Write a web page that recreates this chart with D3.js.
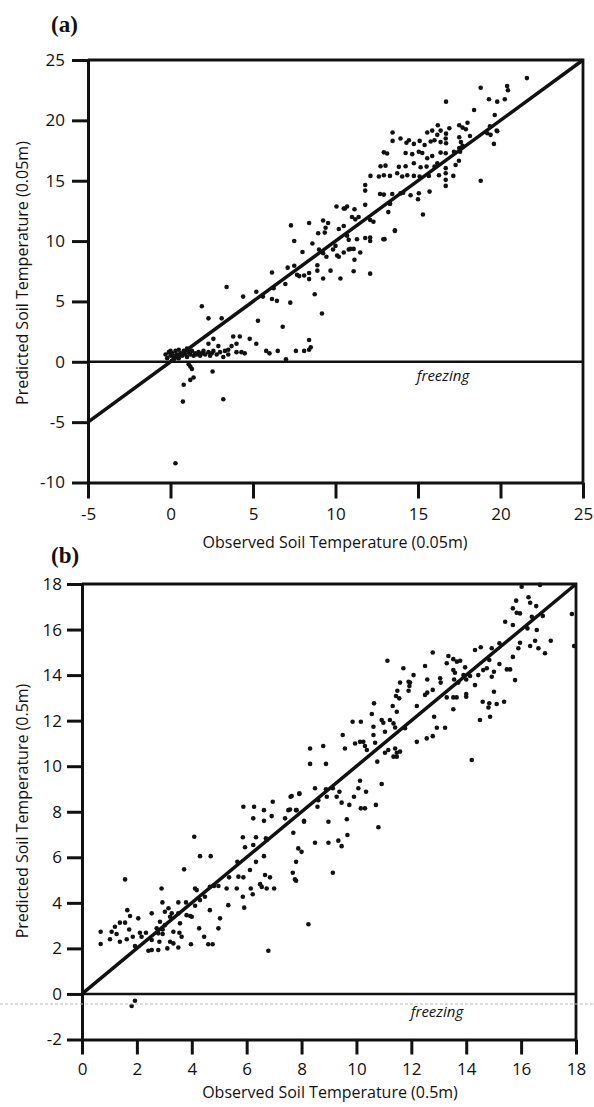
<!DOCTYPE html>
<html>
<head>
<meta charset="utf-8">
<script src="https://cdn.jsdelivr.net/npm/d3@7"></script>
<style>
body { margin: 0; background: #fff; }
svg text { font-family: "Open Sans", sans-serif; fill: #111; }
</style>
</head>
<body>
<div id="chart"></div>
<script>
// tick values for both panels
let xTicksA = [-5, 0, 5, 10, 15, 20, 25];
let yTicksA = [-10, -5, 0, 5, 10, 15, 20, 25];
let xTicksB = [0, 2, 4, 6, 8, 10, 12, 14, 16, 18];
let yTicksB = [-2, 0, 2, 4, 6, 8, 10, 12, 14, 16, 18];

// panel (a): [observed, predicted] soil temperature at 0.05m
let pointsA = [
    [3.4,6.2],[4.4,5.4],[1.9,4.6],[2.3,3.6],[3.1,3.6],[5.3,3.4],[6.8,2.9],[3.8,2.1],[4.2,2.1],[4.8,1.9],
    [5.2,1.5],[2.6,1.9],[2.3,1.5],[2.9,1.3],[3.7,1.3],[3.5,1.0],[4.0,1.5],[4.0,0.8],[4.3,0.8],[4.5,0.7],
    [5.8,0.9],[6.0,0.7],[6.5,0.9],[7.6,0.9],[8.1,0.9],[8.4,1.0],[8.5,1.2],[8.4,1.8],[7.0,0.2],
    [1.2,-0.4],[1.3,-0.6],[1.4,-1.3],[0.8,-1.9],[0.75,-3.3],[3.2,-3.1],[2.55,-0.8],[0.3,-8.4],[1.1,-0.2],[1.2,-1.5],
    [-0.3,0.6],[-0.1,0.8],[0.0,0.5],[0.1,0.7],[0.2,0.4],[0.3,0.9],[0.4,0.6],[0.5,0.3],[0.6,0.7],[0.7,0.5],
    [0.8,0.9],[0.9,0.6],[1.0,0.4],[1.1,0.8],[1.2,0.6],[1.3,0.9],[1.4,0.5],[1.5,0.7],[1.6,0.6],[1.7,0.8],
    [1.8,0.5],[1.9,0.7],[2.0,0.9],[2.1,0.6],[2.3,0.8],[2.4,0.5],[2.5,0.7],[2.6,0.9],[2.8,0.6],[3.0,0.8],
    [3.2,0.4],[3.3,0.9],[3.5,0.6],[0.2,0.2],[0.1,0.1],[-0.2,0.3],[0.0,0.9],[0.5,1.0],[1.0,1.1],[0.3,0.5],
    [6.15,7.4],[6.25,6.1],[6.45,5.05],[7.26,4.9],[6.96,6.45],[7.67,7.2],[5.2,5.8],[5.6,5.4],[6.15,5.2],[8.74,5.6],
    [9.18,4.0],[7.1,7.8],[7.5,7.95],[7.8,7.1],[8.1,7.15],[8.4,7.35],[8.4,6.85],[8.9,8.0],[8.9,7.55],[9.25,6.9],
    [9.7,7.55],[10.3,6.9],[11.1,7.5],[12.1,7.3],[7.3,11.3],[8.4,11.5],[9.25,11.7],[9.55,11.5],[8.95,10.65],[9.35,10.7],
    [9.4,11.1],[10.5,11.25],[7.5,10.0],[8.6,9.8],[8.0,9.1],[9.0,9.3],[9.25,9.0],[9.45,8.7],[9.85,9.3],[10.1,8.8],
    [10.2,8.7],[10.5,9.05],[10.8,9.3],[10.06,12.86],[10.57,12.7],[10.7,12.86],[11.15,12.64],[11.8,13.0],[11.0,12.0],[11.2,11.8],
    [11.4,12.0],[10.2,11.0],[12.1,11.75],[10.7,10.45],[10.8,10.1],[11.3,10.15],[11.8,10.25],[10.0,9.6],[10.9,9.35],[11.1,9.35],
    [11.5,9.05],[11.15,8.45],[12.1,10.0],[12.9,10.15],[13.6,10.9],[15.3,12.2],[12.3,11.6],[12.1,10.3],[13.3,13.1],[13.2,12.4],
    [21.6,23.5],[18.8,22.7],[20.4,22.85],[20.45,22.5],[19.3,21.75],[19.8,21.55],[20.26,21.75],[16.7,21.55],[18.4,20.86],[19.65,20.45],
    [18.0,19.8],[17.7,19.4],[17.5,19.6],[17.9,19.26],[16.2,19.6],[16.37,19.15],[16.9,19.35],[16.7,18.9],[15.56,19.0],[15.86,19.15],
    [16.17,18.8],[17.5,18.6],[17.6,18.2],[17.7,17.9],[17.5,17.7],[18.15,18.7],[19.2,18.93],[19.77,19.15],[19.6,18.05],[19.8,19.1],
    [19.4,18.8],[19.36,19.5],[18.8,15.0],[13.46,19.0],[13.46,18.3],[13.94,18.5],[14.3,18.15],[14.45,18.35],[14.75,18.05],[15.1,18.3],
    [15.4,17.96],[15.77,18.25],[16.0,18.35],[16.37,18.2],[16.68,18.5],[16.7,18.1],[12.93,17.35],[13.13,17.25],[14.25,17.3],[14.65,17.2],
    [15.05,17.4],[15.26,17.3],[15.56,16.86],[15.86,17.05],[16.37,17.33],[16.68,17.28],[17.18,17.4],[17.55,17.4],[12.73,16.2],[13.03,16.25],
    [13.84,16.15],[14.25,16.2],[14.75,16.45],[15.16,16.12],[15.52,16.17],[16.0,16.17],[16.17,16.45],[16.68,16.04],[17.28,16.3],[17.48,16.66],
    [12.12,15.4],[12.63,15.35],[12.93,15.45],[13.3,15.4],[13.74,15.62],[14.04,15.35],[14.35,15.45],[14.75,15.4],[15.1,15.35],[15.66,15.4],
    [16.27,15.45],[16.68,15.62],[16.68,15.07],[16.68,14.57],[17.14,15.4],[11.8,14.65],[11.8,14.18],[12.7,13.9],[12.93,13.85],[13.44,13.9],
    [13.94,13.95],[14.1,14.0],[14.55,13.8],[15.05,13.96],[15.0,13.46],[15.7,14.1],[13.3,13.1],[13.6,10.84],[12.97,10.16],[10.5,12.7]
];

// panel (b): [observed, predicted] soil temperature at 0.5m
let pointsB = [
    [16.02,17.88],[16.69,17.96],[15.82,17.27],[16.27,17.42],[16.33,17.18],[16.55,17.03],[15.7,16.93],[15.84,16.74],[15.96,16.71],[17.85,16.68],
    [17.93,15.28],[15.42,16.34],[15.7,16.2],[16.39,16.56],[16.79,16.6],[16.23,16.05],[16.57,15.98],[17.08,15.51],[16.51,15.51],[16.33,15.28],
    [16.63,15.18],[16.87,14.96],[15.96,15.42],[15.9,15.18],[15.7,14.8],[14.32,15.1],[14.53,15.22],[14.93,15.18],[15.21,15.4],[12.78,14.99],
    [13.35,14.84],[13.29,14.52],[13.53,14.7],[13.66,14.59],[13.78,14.63],[11.13,14.63],[11.71,14.3],[12.5,14.4],[12.08,14.0],[11.9,13.71],
    [11.95,13.67],[12.58,13.81],[13.05,13.86],[13.07,13.67],[13.53,14.22],[13.59,14.1],[13.96,14.34],[13.9,14.0],[13.56,13.81],[13.71,13.67],
    [14.0,13.81],[14.14,13.96],[14.32,13.56],[14.44,14.0],[14.62,14.22],[14.75,14.3],[14.84,14.66],[14.93,13.93],[15.01,14.15],[15.21,14.49],
    [15.48,14.25],[15.6,14.25],[15.78,13.78],[11.44,13.08],[11.49,13.31],[11.56,12.98],[11.9,13.31],[11.93,13.52],[11.59,13.67],[12.5,13.13],
    [12.58,13.23],[12.78,13.35],[13.29,13.02],[13.53,13.02],[13.65,13.02],[14.0,13.05],[14.0,13.17],[13.53,12.5],[14.6,12.83],[14.81,12.58],
    [14.84,12.76],[15.01,13.27],[15.11,12.73],[15.38,12.83],[14.5,12.03],[14.87,12.17],[14.2,10.27],[10.64,12.76],[11.32,12.64],[11.47,12.39],
    [12.2,12.64],[12.83,12.17],[10.56,12.29],[9.86,11.95],[10.16,11.95],[10.92,12.03],[10.98,11.91],[10.62,11.73],[11.04,11.51],[11.35,11.88],
    [11.41,11.7],[11.22,12.03],[11.77,11.67],[12.93,11.69],[13.23,11.69],[9.5,11.37],[10.62,11.37],[10.68,11.03],[12.2,11.07],[12.56,11.22],
    [12.78,11.32],[9.95,11.0],[10.13,11.07],[10.25,11.07],[10.31,10.89],[10.38,10.71],[9.58,10.78],[8.31,10.78],[8.79,10.89],[8.31,10.1],
    [8.89,10.1],[10.76,10.2],[11.04,10.59],[11.16,10.71],[11.47,10.59],[11.41,10.78],[11.59,10.64],[11.35,10.42],[11.47,10.42],[10.92,9.22],
    [10.13,9.36],[10.35,8.88],[10.07,9.03],[9.91,8.66],[9.74,8.3],[9.46,8.4],[9.28,8.66],[9.38,8.88],[9.14,9.03],[8.49,9.03],
    [8.89,8.99],[8.61,8.51],[8.92,8.66],[7.92,8.78],[7.64,8.69],[10.71,8.3],[10.16,8.15],[10.31,8.15],[7.82,8.07],[7.58,8.1],
    [8.09,7.56],[8.98,7.56],[9.65,7.67],[10.8,7.32],[7.7,7.08],[7.88,6.39],[8.0,6.24],[7.8,5.8],[7.68,5.32],[7.76,5.03],
    [8.49,6.64],[8.98,6.64],[9.34,6.73],[9.46,6.49],[9.67,6.98],[9.14,5.32],[8.25,3.06],[7.8,4.97],[8.58,8.22],[6.79,1.9],
    [7.6,8.66],[7.92,8.81],[8.09,7.6],[7.8,8.07],[7.52,8.07],[7.4,7.71],[6.95,8.44],[6.63,8.07],[6.63,7.6],[6.91,7.81],
    [6.27,8.22],[6.24,7.71],[5.88,8.22],[5.86,6.88],[6.34,6.88],[6.7,6.83],[5.94,6.44],[6.24,6.54],[6.73,6.76],[6.63,6.05],
    [6.34,5.8],[6.12,5.44],[5.88,5.12],[5.7,5.15],[5.66,5.8],[5.36,5.12],[5.27,4.63],[5.64,4.63],[5.86,4.27],[6.15,4.63],
    [6.22,4.38],[6.49,4.82],[6.55,4.7],[6.73,4.63],[7.0,4.63],[6.67,5.22],[6.85,5.12],[4.09,6.9],[4.3,6.05],[4.69,6.05],
    [3.72,5.47],[4.12,4.63],[4.18,4.56],[4.66,4.71],[4.81,4.74],[4.97,4.74],[2.9,4.63],[2.93,4.02],[3.51,4.02],[3.79,4.02],
    [3.15,3.76],[3.94,3.42],[3.27,3.54],[4.12,3.87],[4.3,4.12],[4.48,4.27],[4.66,3.68],[5.03,3.32],[5.33,3.9],[5.91,3.79],
    [4.97,2.88],[4.45,2.51],[4.27,2.88],[4.6,2.18],[4.76,2.18],[3.97,2.18],[1.57,5.03],[1.65,3.68],[1.75,3.42],[2.05,3.32],
    [2.54,3.54],[2.84,3.17],[3.02,3.61],[3.21,3.39],[3.51,3.54],[3.81,3.46],[4.0,3.39],[3.57,3.1],[3.33,2.73],[3.55,2.69],
    [3.02,3.02],[2.94,2.83],[0.68,2.73],[0.68,2.19],[1.02,2.4],[1.08,2.73],[1.2,2.95],[1.38,3.13],[1.57,3.13],[1.72,2.83],
    [1.26,2.63],[1.38,2.29],[1.63,2.4],[1.85,2.51],[1.93,2.1],[2.11,2.69],[2.33,2.69],[2.17,2.51],[2.42,1.9],[2.54,2.37],
    [2.72,2.88],[2.78,2.66],[2.82,2.29],[2.94,2.63],[2.78,1.93],[3.11,2.0],[3.21,2.29],[3.33,2.22],[3.51,2.04],[3.63,2.51],
    [2.54,1.93],[1.81,-0.53],[1.93,-0.3]
];

let svg = d3.select("#chart").append("svg")
    .attr("width", 594)
    .attr("height", 1107);

// plain hyphen for negatives, like the printed figure
let fmt = function(d) { return String(d); };

// draws one scatter panel with its frame, 1:1 line and freezing line
function drawPanel(p) {
    let x = d3.scaleLinear().domain(p.xDomain).range([p.left, p.right]);
    let y = d3.scaleLinear().domain(p.yDomain).range([p.bottom, p.top]);

    let g = svg.append("g");

    // frame top and right
    g.append("path")
        .attr("d", "M" + x.range()[0] + "," + y.range()[1] + "H" + x.range()[1] + "V" + y.range()[0])
        .attr("fill", "none")
        .attr("stroke", "#111")
        .attr("stroke-width", 2.8);

    // freezing line at 0
    g.append("line")
        .attr("x1", x.range()[0]).attr("x2", x.range()[1])
        .attr("y1", y(0)).attr("y2", y(0))
        .attr("stroke", "#111")
        .attr("stroke-width", 2.5);

    g.append("text")
        .attr("x", p.freezeX)
        .attr("y", y(0) + p.freezeDy)
        .attr("text-anchor", "middle")
        .style("font-style", "italic")
        .style("font-size", "15px")
        .text("freezing");

    // points
    g.selectAll("circle")
        .data(p.points)
        .enter().append("circle")
        .attr("cx", function(d) { return x(d[0]); })
        .attr("cy", function(d) { return y(d[1]); })
        .attr("r", 2.3)
        .attr("fill", "#111");

    // 1:1 line
    let lo = Math.max(p.xDomain[0], p.yDomain[0]);
    let hi = Math.min(p.xDomain[1], p.yDomain[1]);
    g.append("line")
        .attr("x1", x(lo)).attr("y1", y(lo))
        .attr("x2", x(hi)).attr("y2", y(hi))
        .attr("stroke", "#111")
        .attr("stroke-width", 3.5);

    // y axis
    let yAxis = g.append("g")
        .attr("transform", "translate(" + p.left + ",0)")
        .call(d3.axisLeft(y).tickValues(p.yTicks).tickFormat(fmt)
            .tickSize(p.tick).tickSizeOuter(0).tickPadding(p.yPad));
    // x axis
    let xAxis = g.append("g")
        .attr("transform", "translate(0," + p.bottom + ")")
        .call(d3.axisBottom(x).tickValues(p.xTicks).tickFormat(fmt)
            .tickSize(p.tick).tickSizeOuter(0).tickPadding(p.xPad));

    [yAxis, xAxis].forEach(function(a) {
        a.select(".domain").attr("stroke", "#111").attr("stroke-width", 3);
        a.selectAll(".tick line").attr("stroke", "#111").attr("stroke-width", 3);
        a.selectAll(".tick text")
            .style("font-family", "'Open Sans', sans-serif")
            .style("font-size", "17px")
            .attr("fill", "#111");
    });

    // axis titles
    g.append("text")
        .attr("x", p.xTitleX)
        .attr("y", p.xTitleY)
        .attr("text-anchor", "middle")
        .style("font-size", "16px")
        .text(p.xTitle);

    g.append("text")
        .attr("transform", "translate(" + 28 + "," + p.yTitleY + ") rotate(-90)")
        .attr("text-anchor", "middle")
        .style("font-size", "16px")
        .text(p.yTitle);

    // panel letter
    g.append("text")
        .attr("x", 51)
        .attr("y", p.letterY)
        .style("font-family", "'Liberation Serif', serif")
        .style("font-weight", "bold")
        .style("font-size", "23px")
        .text(p.letter);
}

drawPanel({
    points: pointsA, xTicks: xTicksA, yTicks: yTicksA,
    xDomain: [-5, 25], yDomain: [-10, 25],
    left: 88, right: 583, top: 60, bottom: 482.5,
    tick: 16, yPad: 7, xPad: 9,
    freezeX: 443, freezeDy: 19,
    xTitle: "Observed Soil Temperature (0.05m)", xTitleX: 335, xTitleY: 548,
    yTitle: "Predicted Soil Temperature (0.05m)", yTitleY: 273,
    letter: "(a)", letterY: 32
});

drawPanel({
    points: pointsB, xTicks: xTicksB, yTicks: yTicksB,
    xDomain: [0, 18], yDomain: [-2, 18],
    left: 82, right: 576, top: 584, bottom: 1039.5,
    tick: 15, yPad: 5, xPad: 8,
    freezeX: 437, freezeDy: 23,
    xTitle: "Observed Soil Temperature (0.5m)", xTitleX: 330, xTitleY: 1098,
    yTitle: "Predicted Soil Temperature (0.5m)", yTitleY: 811,
    letter: "(b)", letterY: 563
});

// faint scan line across panel (b)
svg.append("line")
    .attr("x1", 0).attr("x2", 594)
    .attr("y1", 1004).attr("y2", 1004)
    .attr("stroke", "#bbb")
    .attr("stroke-width", 1)
    .attr("stroke-dasharray", "3,2");
</script>
</body>
</html>
